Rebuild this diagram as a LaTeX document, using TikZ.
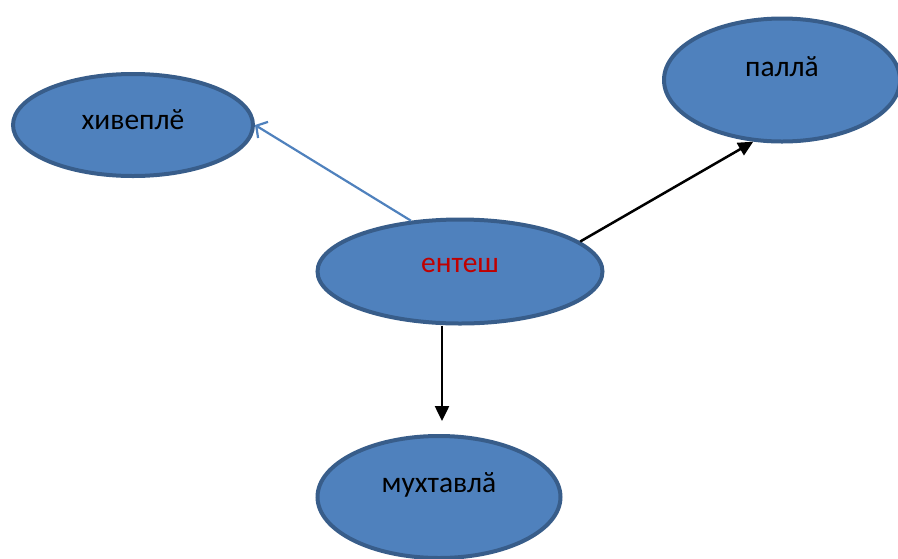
\documentclass[tikz,border=0pt]{standalone}
\usepackage{fontspec}
\setmainfont{Carlito}
\usetikzlibrary{shapes.geometric,arrows.meta}
\definecolor{bfill}{HTML}{4F81BD}
\definecolor{bline}{HTML}{385D8A}
\definecolor{tred}{HTML}{C00000}
\tikzset{
  bubble/.style={ellipse,draw=bline,fill=bfill,line width=4pt,inner sep=0pt},
  lbl/.style={font=\fontsize{29.5}{34}\selectfont,text=black,inner sep=0pt},
  blk/.style={line width=2.5pt,-{Triangle[length=15pt,width=14pt]}},
  blu/.style={draw=bfill,line width=2.2pt,-{Straight Barb[length=8pt,width=19pt]}}
}
\begin{document}
\begin{tikzpicture}[x=1pt,y=-1pt]
\useasboundingbox (0,0) rectangle (898,558);
\clip (0,0) rectangle (898,558);
\node[bubble,minimum width=240pt,minimum height=102pt,
  label={[lbl,yshift=5pt]center:хивеплӗ}] (h) at (133,125) {};
\node[bubble,minimum width=236pt,minimum height=123pt,
  label={[lbl,yshift=13pt]center:паллӑ}] (p) at (782,80) {};
\node[bubble,minimum width=285pt,minimum height=104pt,
  label={[lbl,text=tred,yshift=6pt]center:ентеш}] (e) at (460,271.5) {};
\node[bubble,minimum width=243pt,minimum height=122pt,
  label={[lbl,yshift=12pt]center:мухтавлӑ}] (m) at (439,497) {};
\draw[blu] (e.134) -- (h.east);
\draw[blk] ([xshift=3pt]e.south -| m.north) -- ([xshift=3pt,yshift=13pt]m.north);
\draw[blk] (e.14) -- (p.245);
\end{tikzpicture}
\end{document}
